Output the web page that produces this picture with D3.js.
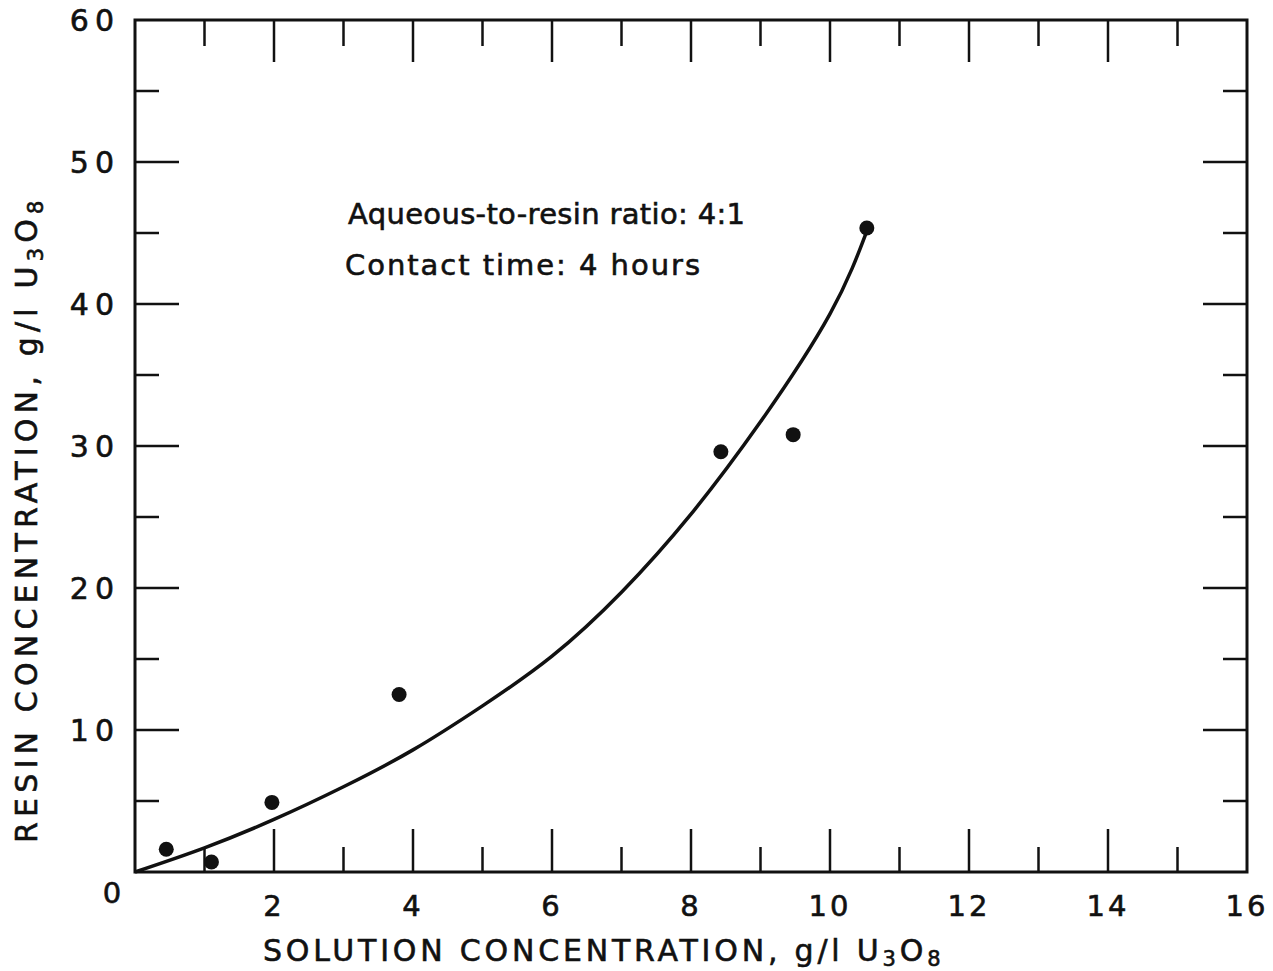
<!DOCTYPE html>
<html>
<head>
<meta charset="utf-8">
<script src="https://cdn.jsdelivr.net/npm/d3@7"></script>
<style>
  body { margin: 0; background: #fff; overflow: hidden; }
  svg { display: block; }
  text { font-family: "DejaVu Sans", sans-serif; fill: #111; stroke: #111; stroke-width: 0.6; }
</style>
</head>
<body>
<div id="plot"></div>
<script>
// data
const solution = [0.45, 1.1, 1.97, 3.8, 8.43, 9.47, 10.53];
const resin = [1.6, 0.7, 4.9, 12.5, 29.6, 30.8, 45.35];

// hand-drawn curve, read at points along it
const curveX = [0, 1, 2, 3, 4, 5, 6, 7, 8, 9, 10, 10.55];
const curveY = [0, 1.7, 3.7, 6.0, 8.6, 11.7, 15.2, 19.7, 25.2, 31.7, 39.3, 45.4];

const xTickLabels = [2, 4, 6, 8, 10, 12, 14, 16];
const yTickLabels = [10, 20, 30, 40, 50, 60];

const w = 1273;
const h = 971;
const margin = {top: 20, right: 26, bottom: 99, left: 135};
const innerWidth = w - margin.left - margin.right;
const innerHeight = h - margin.top - margin.bottom;

const xScale = d3.scaleLinear().domain([0, 16]).range([0, innerWidth]);
const yScale = d3.scaleLinear().domain([0, 60]).range([innerHeight, 0]);

const svg = d3.select("div#plot")
  .append("svg")
  .attr("width", w)
  .attr("height", h);

const g = svg.append("g")
  .attr("transform", `translate(${margin.left}, ${margin.top})`);

// ticks: long at majors, short at minors, on all four sides
const xt = d3.range(1, 16);
const yt = d3.range(5, 60, 5);

g.append("g").selectAll("line")
  .data(xt)
  .join("line")
  .attr("x1", d => xScale(d))
  .attr("x2", d => xScale(d))
  .attr("y1", innerHeight)
  .attr("y2", d => innerHeight - (d % 2 === 0 ? 43 : 25))
  .attr("stroke", "#111")
  .attr("stroke-width", 2.5);

g.append("g").selectAll("line")
  .data(xt)
  .join("line")
  .attr("x1", d => xScale(d))
  .attr("x2", d => xScale(d))
  .attr("y1", 0)
  .attr("y2", d => (d % 2 === 0 ? 42 : 26))
  .attr("stroke", "#111")
  .attr("stroke-width", 2.5);

g.append("g").selectAll("line")
  .data(yt)
  .join("line")
  .attr("y1", d => yScale(d))
  .attr("y2", d => yScale(d))
  .attr("x1", 0)
  .attr("x2", d => (d % 10 === 0 ? 44 : 24))
  .attr("stroke", "#111")
  .attr("stroke-width", 2.5);

g.append("g").selectAll("line")
  .data(yt)
  .join("line")
  .attr("y1", d => yScale(d))
  .attr("y2", d => yScale(d))
  .attr("x1", innerWidth)
  .attr("x2", d => innerWidth - (d % 10 === 0 ? 44 : 24))
  .attr("stroke", "#111")
  .attr("stroke-width", 2.5);

// frame
g.append("rect")
  .attr("x", 0)
  .attr("y", 0)
  .attr("width", innerWidth)
  .attr("height", innerHeight)
  .attr("fill", "none")
  .attr("stroke", "#111")
  .attr("stroke-width", 3);

// tick labels
g.append("g").selectAll("text")
  .data(xTickLabels)
  .join("text")
  .attr("x", d => xScale(d))
  .attr("y", innerHeight + 44)
  .attr("text-anchor", "middle")
  .attr("font-size", 29)
  .attr("letter-spacing", 3)
  .text(d => d);

g.append("g").selectAll("text")
  .data(yTickLabels)
  .join("text")
  .attr("x", -15)
  .attr("y", d => yScale(d) + 11)
  .attr("text-anchor", "end")
  .attr("font-size", 30)
  .attr("letter-spacing", 6)
  .text(d => d);

g.append("text")
  .attr("x", -23)
  .attr("y", innerHeight + 31)
  .attr("text-anchor", "middle")
  .attr("font-size", 29)
  .text("0");

// curve
const line = d3.line()
  .x(d => xScale(d[0]))
  .y(d => yScale(d[1]))
  .curve(d3.curveNatural);

g.append("path")
  .datum(d3.zip(curveX, curveY))
  .attr("d", line)
  .attr("fill", "none")
  .attr("stroke", "#111")
  .attr("stroke-width", 3.5);

// points
g.append("g").selectAll("circle")
  .data(d3.zip(solution, resin))
  .join("circle")
  .attr("cx", d => xScale(d[0]))
  .attr("cy", d => yScale(d[1]))
  .attr("r", 7.5)
  .attr("fill", "#111");

// annotation
g.append("text")
  .attr("x", 213)
  .attr("y", 204)
  .attr("font-size", 29)
  .attr("textLength", 397)
  .attr("lengthAdjust", "spacing")
  .text("Aqueous-to-resin ratio:  4:1");

g.append("text")
  .attr("x", 210)
  .attr("y", 255)
  .attr("font-size", 29)
  .attr("textLength", 355)
  .attr("lengthAdjust", "spacing")
  .text("Contact time:  4 hours");

// axis titles
const xTitle = svg.append("text")
  .attr("x", 263)
  .attr("y", 961)
  .attr("font-size", 30)
  .attr("letter-spacing", 3.8);
xTitle.append("tspan").text("SOLUTION  CONCENTRATION,  g/l  U");
xTitle.append("tspan").attr("font-size", 21).attr("dy", 5).text("3");
xTitle.append("tspan").attr("dy", -5).text("O");
xTitle.append("tspan").attr("font-size", 21).attr("dy", 5).text("8");

const yTitle = svg.append("text")
  .attr("transform", "translate(37, 843) rotate(-90)")
  .attr("font-size", 30)
  .attr("letter-spacing", 5.2);
yTitle.append("tspan").text("RESIN  CONCENTRATION,  g/l  U");
yTitle.append("tspan").attr("font-size", 21).attr("dy", 6).text("3");
yTitle.append("tspan").attr("dy", -6).text("O");
yTitle.append("tspan").attr("font-size", 21).attr("dy", 6).text("8");
</script>
</body>
</html>
